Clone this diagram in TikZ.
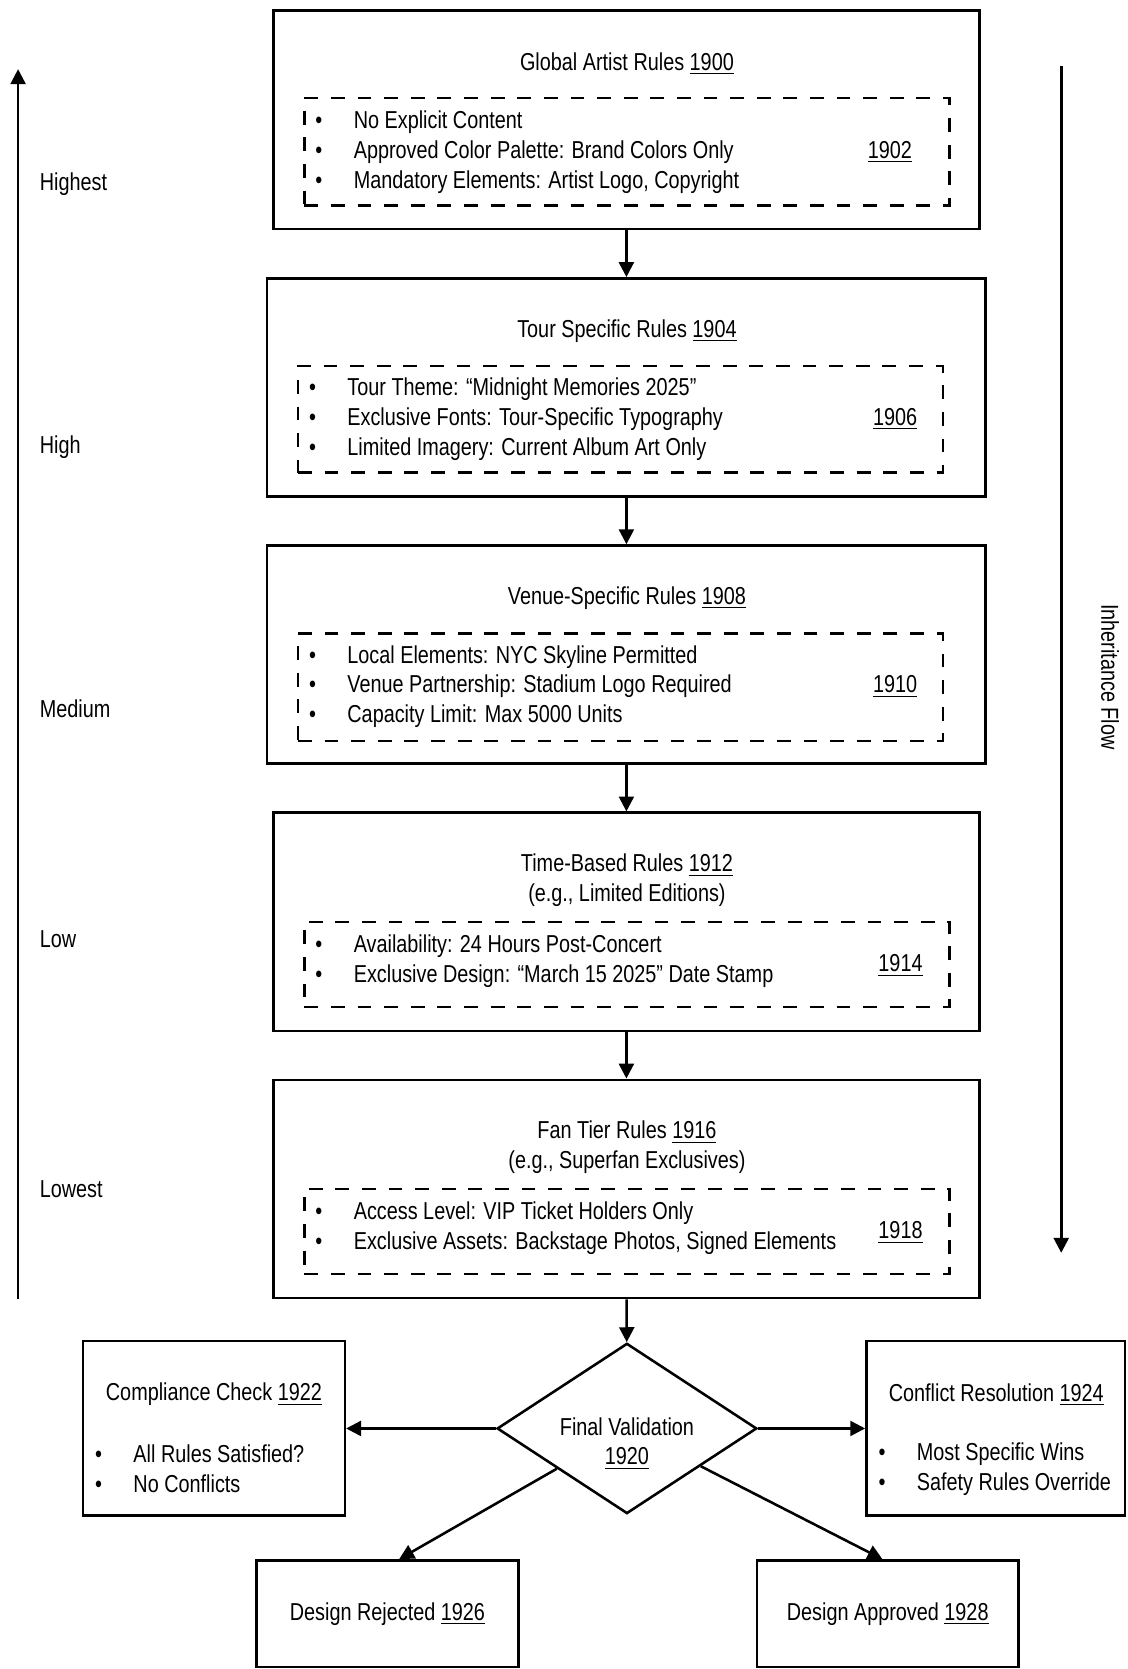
\documentclass[tikz,border=0pt]{standalone}
\usepackage{fontspec}
\setmainfont[FakeStretch=0.81]{Liberation Sans}
\usetikzlibrary{arrows.meta,shapes.geometric}

\newcommand{\bul}{\makebox[18pt][l]{\textbullet}}

\tikzset{
  rulebox/.style={draw, line width=1.2pt, minimum height=102.5pt, inner sep=0pt},
  dashbox/.style={draw, line width=1.2pt, dash pattern=on 6.5pt off 6pt, inner sep=0pt},
  smallbox/.style={draw, line width=1.2pt, minimum width=123pt, inner sep=0pt},
  txt/.style={font=\fontsize{11.5}{14}\selectfont, inner sep=0pt, align=left},
  flow/.style={line width=1.2pt, -{Triangle[length=7pt,width=7pt]}},
}

\begin{document}
\begin{tikzpicture}[x=0.5pt,y=-0.5pt]
\useasboundingbox (0,0) rectangle (1059,1568);

\coordinate (prioritybot) at (17,1220);
\coordinate (prioritytop) at (17,65);
\draw[flow] (prioritybot) -- (prioritytop);
\node[txt, anchor=west] (highest) at (37,173) {Highest};
\node[txt, anchor=west] (high) at (37,420) {High};
\node[txt, anchor=west] (medium) at (37,666) {Medium};
\node[txt, anchor=west] (low) at (37,882) {Low};
\node[txt, anchor=west] (lowest) at (37,1117) {Lowest};

\coordinate (inherittop) at (997,62);
\coordinate (inheritbot) at (997,1177);
\draw[flow] (inherittop) -- (inheritbot);
\node[txt, rotate=-90] (inherit) at (1043,636) {Inheritance Flow};

\node[rulebox, minimum width=331.5pt] (global) at (588.5,112.5) {};
\node[txt] (globaltitle) at (589,60) {Global Artist Rules \underline{1900}};
\node[dashbox, minimum width=303pt, minimum height=50.5pt] (globaldash) at (589,142.5) {};
\node[txt, anchor=west] (globallist) at (296,143) {\bul No Explicit Content\\ \bul Approved Color Palette: Brand Colors Only\\ \bul Mandatory Elements: Artist Logo, Copyright};
\node[txt] (globalnum) at (836,143) {\underline{1902}};

\node[rulebox, minimum width=337.5pt] (tour) at (588.5,364) {};
\node[txt] (tourtitle) at (589,311) {Tour Specific Rules \underline{1904}};
\node[dashbox, minimum width=303pt, minimum height=50pt] (tourdash) at (583,394) {};
\node[txt, anchor=west] (tourlist) at (290,394) {\bul Tour Theme: ``Midnight Memories 2025''\\ \bul Exclusive Fonts: Tour-Specific Typography\\ \bul Limited Imagery: Current Album Art Only};
\node[txt] (tournum) at (841,394) {\underline{1906}};

\node[rulebox, minimum width=337.5pt] (venue) at (588.5,615) {};
\node[txt] (venuetitle) at (589,562) {Venue-Specific Rules \underline{1908}};
\node[dashbox, minimum width=303pt, minimum height=50.5pt] (venuedash) at (583,645.5) {};
\node[txt, anchor=west] (venuelist) at (290,645) {\bul Local Elements: NYC Skyline Permitted\\ \bul Venue Partnership: Stadium Logo Required\\ \bul Capacity Limit: Max 5000 Units};
\node[txt] (venuenum) at (841,645) {\underline{1910}};

\node[rulebox, minimum width=331.5pt] (time) at (588.5,866) {};
\node[txt, align=center] (timetitle) at (589,827) {Time-Based Rules \underline{1912}\\(e.g., Limited Editions)};
\node[dashbox, minimum width=303pt, minimum height=40pt] (timedash) at (589,906) {};
\node[txt, anchor=west] (timelist) at (296,903) {\bul Availability: 24 Hours Post-Concert\\ \bul Exclusive Design: ``March 15 2025'' Date Stamp};
\node[txt] (timenum) at (846,907) {\underline{1914}};

\node[rulebox, minimum width=331.5pt] (fan) at (588.5,1117) {};
\node[txt, align=center] (fantitle) at (589,1078) {Fan Tier Rules \underline{1916}\\(e.g., Superfan Exclusives)};
\node[dashbox, minimum width=303pt, minimum height=40pt] (fandash) at (589,1157) {};
\node[txt, anchor=west] (fanlist) at (296,1154) {\bul Access Level: VIP Ticket Holders Only\\ \bul Exclusive Assets: Backstage Photos, Signed Elements};
\node[txt] (fannum) at (846,1158) {\underline{1918}};

\node[diamond, draw, line width=1.2pt, minimum width=122pt, minimum height=80pt, inner sep=0pt,
  label={[txt, align=center, yshift=-7pt]center:Final Validation\\\underline{1920}}] (final) at (589,1342) {};

\node[smallbox, minimum height=82pt] (comply) at (201,1342) {};
\node[txt] (complytitle) at (201,1310) {Compliance Check \underline{1922}};
\node[txt, anchor=west] (complylist) at (89,1380) {\bul All Rules Satisfied?\\ \bul No Conflicts};

\node[smallbox, minimum width=121.5pt, minimum height=82pt] (conflict) at (935.5,1342) {};
\node[txt] (conflicttitle) at (936,1310) {Conflict Resolution \underline{1924}};
\node[txt, anchor=west] (conflictlist) at (825,1380) {\bul Most Specific Wins\\ \bul Safety Rules Override};

\node[smallbox, minimum height=50pt] (reject) at (364,1516) {};
\node[txt] (rejecttext) at (364,1516) {Design Rejected \underline{1926}};
\node[smallbox, minimum height=50pt] (approve) at (834,1516) {};
\node[txt] (approvetext) at (834,1516) {Design Approved \underline{1928}};

\draw[flow] (global) -- (tour);
\draw[flow] (tour) -- (venue);
\draw[flow] (venue) -- (time);
\draw[flow] (time) -- (fan);
\draw[flow] (fan) -- (final);
\draw[flow] (final.west) -- (comply.east);
\draw[flow] (final.east) -- (conflict.west);
\draw[flow] (final) -- ([xshift=5.5pt]reject.north);
\draw[flow] (final) -- ([xshift=-2.5pt]approve.north);
\end{tikzpicture}
\end{document}
